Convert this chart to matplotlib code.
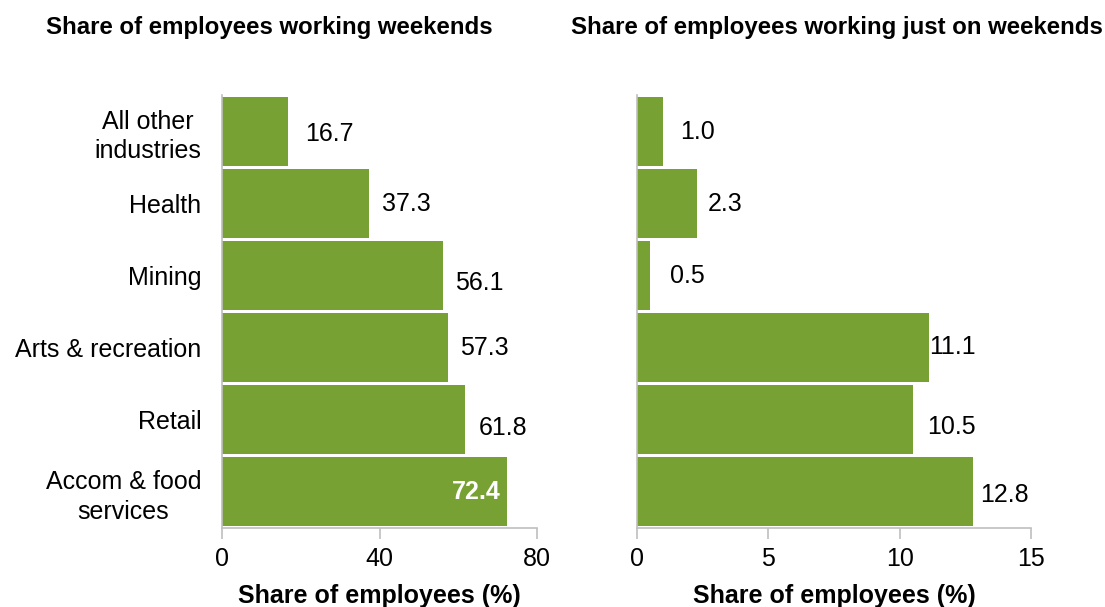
import matplotlib.pyplot as plt

plt.rcParams['font.family'] = ['Liberation Sans', 'DejaVu Sans']

industries = ["All other\nindustries", "Health", "Mining", "Arts & recreation",
              "Retail", "Accom & food\nservices"]
weekend_share = [16.7, 37.3, 56.1, 57.3, 61.8, 72.4]
weekend_only_share = [1.0, 2.3, 0.5, 11.1, 10.5, 12.8]

green = "#78a133"
grey = "#bfbfbf"
fs = 18

fig = plt.figure(figsize=(11.05, 6.07), dpi=100)
ax1 = fig.add_axes([0.2009, 0.1301, 0.2851, 0.7134])
ax2 = fig.add_axes([0.5765, 0.1301, 0.3565, 0.7134])

# value label placement: gap after the bar end (pixels) and downward nudge (bar units)
left_dx = [17, 13, 12, 12, 13, -6]
left_dy = [0.04, 0.01, 0.1, 0.01, 0.12, 0.0]
right_dx = [17, 10, 20, 1, 14, 7]
right_dy = [0.01, 0.01, 0.01, -0.01, 0.1, 0.04]


def draw(ax, vals, xmax, ticks, dx, dy, inside_last=False):
    y = list(range(len(vals)))
    ax.barh(y, vals, height=0.955, color=green, edgecolor="none")
    ax.set_ylim(len(vals) - 0.5, -0.5)
    ax.set_xlim(0, xmax)
    ax.set_xticks(ticks)
    for s in ["top", "right"]:
        ax.spines[s].set_visible(False)
    for s in ["left", "bottom"]:
        ax.spines[s].set_color(grey)
        ax.spines[s].set_linewidth(1.2)
    ax.tick_params(axis="x", length=8, width=1.2, color=grey, labelsize=fs, pad=6)
    ax.tick_params(axis="y", length=0, labelsize=fs, pad=15)
    ax.set_xlabel("Share of employees (%)", fontsize=fs, fontweight="bold", labelpad=9)
    for i, v in enumerate(vals):
        if inside_last and i == len(vals) - 1:
            ax.annotate(f"{v:.1f}", (v, i + dy[i]), xytext=(dx[i], 0),
                        textcoords="offset pixels", ha="right", va="center",
                        color="white", fontsize=fs, fontweight="bold")
        else:
            ax.annotate(f"{v:.1f}", (v, i + dy[i]), xytext=(dx[i], 0),
                        textcoords="offset pixels", ha="left", va="center",
                        color="black", fontsize=fs)


draw(ax1, weekend_share, 80, [0, 40, 80], left_dx, left_dy, inside_last=True)
ax1.set_yticks(range(len(industries)))
ax1.set_yticklabels(industries)
for t in ax1.get_yticklabels():
    t.set_multialignment("center")
    t.set_linespacing(1.3)

draw(ax2, weekend_only_share, 15, [0, 5, 10, 15], right_dx, right_dy)
ax2.set_yticks([])

fig.text(0.244, 0.955, "Share of employees working weekends", ha="center", va="center",
         fontsize=17.3, fontweight="bold")
fig.text(0.757, 0.955, "Share of employees working just on weekends", ha="center",
         va="center", fontsize=17.3, fontweight="bold")

fig.savefig("out.png", dpi=100)
